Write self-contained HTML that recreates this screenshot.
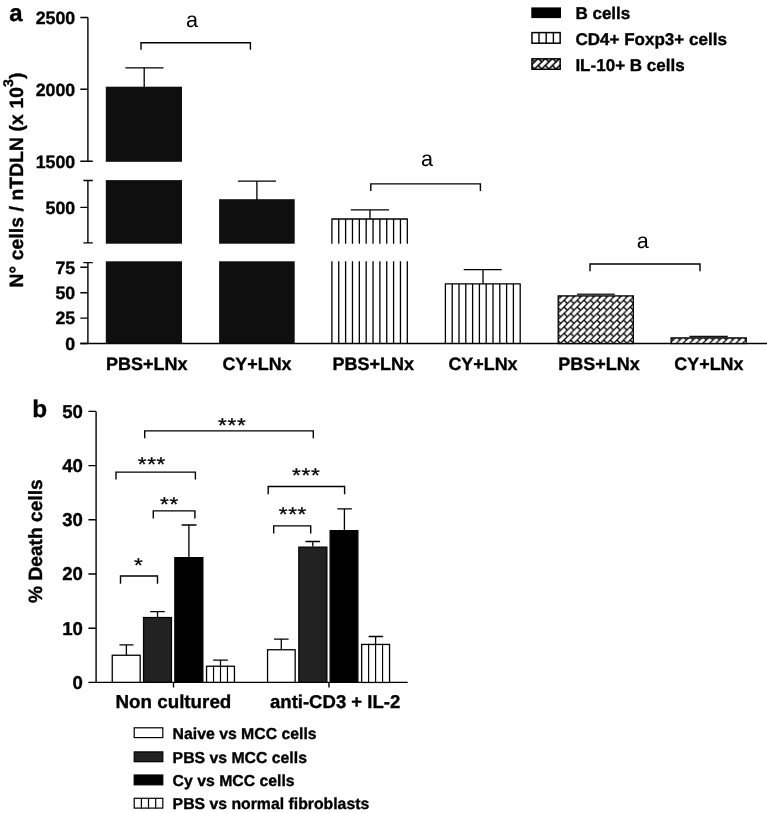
<!DOCTYPE html>
<html><head><meta charset="utf-8"><title>Figure</title>
<style>
html,body{margin:0;padding:0;background:#fff;}
body{width:767px;height:813px;overflow:hidden;font-family:"Liberation Sans",sans-serif;}
svg{display:block;will-change:transform;}
text{font-family:"Liberation Sans",sans-serif;fill:#000;text-rendering:geometricPrecision;}
.b{stroke:#000;stroke-width:0.35;}
.b{font-weight:bold;}
.ln{stroke:#000;stroke-width:1.4;fill:none;}
</style></head><body>
<svg width="767" height="813" viewBox="0 0 767 813">
<defs>
<pattern id="brick" width="6.62" height="6.62" patternUnits="userSpaceOnUse" x="557.4" y="293.7">
<rect width="6.62" height="6.62" fill="#fff"/>
<path d="M-1 7.62L7.62 -1M-1 1L1 -1M5.62 7.62L7.62 5.62" stroke="#000" stroke-width="1.3" fill="none"/>
<path d="M0 0L3.31 3.31" stroke="#000" stroke-width="1.4" fill="none"/>
</pattern>
<pattern id="brick2" width="7.15" height="7.15" patternUnits="userSpaceOnUse" x="531.04" y="58.3">
<rect width="7.15" height="7.15" fill="#fff"/>
<path d="M-1 8.15L8.15 -1M-1 1L1 -1M6.15 8.15L8.15 6.15" stroke="#000" stroke-width="1.6" fill="none"/>
<path d="M0 0L3.575 3.575" stroke="#000" stroke-width="1.5" fill="none"/>
</pattern>
<pattern id="brick3" width="6.62" height="6.62" patternUnits="userSpaceOnUse" x="670.04" y="336.5">
<rect width="6.62" height="6.62" fill="#fff"/>
<path d="M-1 7.62L7.62 -1M-1 1L1 -1M5.62 7.62L7.62 5.62" stroke="#000" stroke-width="1.3" fill="none"/>
<path d="M0 0L3.31 3.31" stroke="#000" stroke-width="1.4" fill="none"/>
</pattern>
</defs>
<rect width="767" height="813" fill="#fff"/>

<text class="b" x="9.3" y="21.3" font-size="24">a</text>
<text class="b" font-size="19.3" letter-spacing="0.1" transform="translate(22.6 287.6) rotate(-90)">N° cells / nTDLN (x 10<tspan font-size="14" dy="-10">3</tspan><tspan dy="10">)</tspan></text>
<path class="ln" d="M87.9 17.5V161.3M87.9 180.5V242.9M87.9 262.6V343.5"/>
<path class="ln" d="M80.3 17.5H87.9M80.3 89.2H87.9M80.3 161.3H87.9M80.3 207.4H87.9M80.3 267.3H87.9M80.3 292.7H87.9M80.3 318.1H87.9M80.3 343.5H87.9M87.9 161.3H92.8M83.4 180.5H92.8M83.4 242.9H92.8M83.4 262.6H92.8"/>
<text class="b" font-size="17.8" text-anchor="end" x="75.2" y="23.8">2500</text>
<text class="b" font-size="17.8" text-anchor="end" x="75.2" y="95.5">2000</text>
<text class="b" font-size="17.8" text-anchor="end" x="75.2" y="167.6">1500</text>
<text class="b" font-size="17.8" text-anchor="end" x="75.2" y="213.7">500</text>
<text class="b" font-size="17.8" text-anchor="end" x="75.2" y="273.6">75</text>
<text class="b" font-size="17.8" text-anchor="end" x="75.2" y="299.0">50</text>
<text class="b" font-size="17.8" text-anchor="end" x="75.2" y="324.4">25</text>
<text class="b" font-size="17.8" text-anchor="end" x="75.2" y="349.8">0</text>
<path class="ln" d="M80.3 343.5H767"/>
<rect x="105.8" y="86.7" width="76.2" height="75.1" fill="#0f0f0f"/>
<rect x="105.8" y="180.1" width="76.2" height="63.6" fill="#0f0f0f"/>
<rect x="105.8" y="261.3" width="76.2" height="82.2" fill="#0f0f0f"/>
<rect x="219.1" y="199.2" width="75.6" height="44.5" fill="#0f0f0f"/>
<rect x="219.1" y="261.3" width="75.6" height="82.2" fill="#0f0f0f"/>
<path class="ln" style="stroke-width:1.3" d="M144.2 87V67.8M125.4 67.8H163.5"/>
<path class="ln" style="stroke-width:1.3" d="M256.9 200V181.1M237.9 181.1H276"/>
<path d="M331.90 219.0V243.7M338.75 219.0V243.7M345.61 219.0V243.7M352.46 219.0V243.7M359.32 219.0V243.7M366.17 219.0V243.7M373.03 219.0V243.7M379.88 219.0V243.7M386.74 219.0V243.7M393.59 219.0V243.7M400.45 219.0V243.7M407.30 219.0V243.7M331.90 261.3V343.5M338.75 261.3V343.5M345.61 261.3V343.5M352.46 261.3V343.5M359.32 261.3V343.5M366.17 261.3V343.5M373.03 261.3V343.5M379.88 261.3V343.5M386.74 261.3V343.5M393.59 261.3V343.5M400.45 261.3V343.5M407.30 261.3V343.5M331.4 219.0H407.8" stroke="#000" stroke-width="1.3" fill="none"/>
<path d="M445.40 283.9V343.5M452.20 283.9V343.5M459.00 283.9V343.5M465.80 283.9V343.5M472.60 283.9V343.5M479.40 283.9V343.5M486.20 283.9V343.5M493.00 283.9V343.5M499.80 283.9V343.5M506.60 283.9V343.5M513.40 283.9V343.5M520.20 283.9V343.5M444.9 283.9H520.7" stroke="#000" stroke-width="1.3" fill="none"/>
<path class="ln" style="stroke-width:1.3" d="M370 218.7V209.8M350.8 209.8H389.1"/>
<path class="ln" style="stroke-width:1.3" d="M483 283.7V269.7M463.7 269.7H501.7"/>
<rect x="558.2" y="295.9" width="75.1" height="47.6" fill="url(#brick)" stroke="#000" stroke-width="1.3"/>
<rect x="671.1" y="337.9" width="75.1" height="5.6" fill="url(#brick3)" stroke="#000" stroke-width="1.3"/>
<path d="M577 294.3H614.8" stroke="#333" stroke-width="1.6"/>
<path d="M689.4 336.5H727.8" stroke="#111" stroke-width="1.5"/>
<path class="ln" d="M141.0 49.7V42.7H250.4V49.7"/>
<path class="ln" d="M370.8 190.9V183.9H480.4V190.9"/>
<path class="ln" d="M590 271.2V264H700V271.2"/>
<text font-size="21.6" text-anchor="middle" x="192.1" y="26.9">a</text>
<text font-size="21.6" text-anchor="middle" x="426.9" y="166.2">a</text>
<text font-size="21.6" text-anchor="middle" x="642.7" y="248.3">a</text>
<text class="b" font-size="18" text-anchor="middle" x="146.70" y="369.7">PBS+LNx</text>
<text class="b" font-size="18" text-anchor="middle" x="373.20" y="369.7">PBS+LNx</text>
<text class="b" font-size="18" text-anchor="middle" x="599.00" y="369.7">PBS+LNx</text>
<text class="b" font-size="17.9" text-anchor="middle" x="257.00" y="369.7">CY+LNx</text>
<text class="b" font-size="17.9" text-anchor="middle" x="483.00" y="369.7">CY+LNx</text>
<text class="b" font-size="17.9" text-anchor="middle" x="708.90" y="369.7">CY+LNx</text>
<rect x="531.3" y="7.4" width="29.7" height="10.7" fill="#000"/>
<rect x="531.95" y="32.6" width="28.2" height="10.6" fill="#fff" stroke="#000" stroke-width="1.5"/>
<path d="M539 32.6V43.2M546.2 32.6V43.2M553.4 32.6V43.2" stroke="#000" stroke-width="1.4"/>
<rect x="531.95" y="58.85" width="28.2" height="10.4" fill="url(#brick2)" stroke="#000" stroke-width="1.5"/>
<text class="b" font-size="17.05" x="575.4" y="18.9">B cells</text>
<text class="b" font-size="17.05" x="575.4" y="45.1">CD4+ Foxp3+ cells</text>
<text class="b" font-size="17.05" x="575.4" y="70.9">IL-10+ B cells</text>
<text class="b" x="32.2" y="416.5" font-size="24.3">b</text>
<text class="b" font-size="19.2" transform="translate(42.4 603) rotate(-90)">% Death cells</text>
<path class="ln" d="M96.1 411.4V682.4"/>
<text class="b" font-size="18.6" text-anchor="end" x="82.9" y="688.8">0</text>
<text class="b" font-size="18.6" text-anchor="end" x="82.9" y="634.6">10</text>
<text class="b" font-size="18.6" text-anchor="end" x="82.9" y="580.4">20</text>
<text class="b" font-size="18.6" text-anchor="end" x="82.9" y="526.2">30</text>
<text class="b" font-size="18.6" text-anchor="end" x="82.9" y="472.0">40</text>
<text class="b" font-size="18.6" text-anchor="end" x="82.9" y="417.8">50</text>
<path class="ln" d="M88.4 682.4H96.1M88.4 628.2H96.1M88.4 574.0H96.1M88.4 519.8H96.1M88.4 465.6H96.1M88.4 411.4H96.1M88.4 682.4H407.7M173.5 682.4V687.5M329 682.4V687.5"/>
<rect x="112.25" y="655.25" width="27.9" height="27.1" fill="#fff" stroke="#000" stroke-width="1.3"/>
<path class="ln" style="stroke-width:1.3" d="M126.4 655.3V644.8M119.4 644.8H133.5"/>
<rect x="143.55" y="617.55" width="27.9" height="64.8" fill="#222" stroke="#000" stroke-width="1.3"/>
<path class="ln" style="stroke-width:1.3" d="M157.5 616.9V611.7M150.2 611.7H164.8"/>
<rect x="174.85" y="557.65" width="28.0" height="124.7" fill="#000" stroke="#000" stroke-width="1.3"/>
<path class="ln" style="stroke-width:1.3" d="M188.9 557V525M181.6 525H196.5"/>
<rect x="206.55" y="666.25" width="27.9" height="16.1" fill="#fff" stroke="#000" stroke-width="1.3"/>
<path d="M213.53 665.6V682.4M220.50 665.6V682.4M227.47 665.6V682.4" stroke="#000" stroke-width="1.15" fill="none"/>
<path class="ln" style="stroke-width:1.3" d="M220.5 666.5V660.2M213.2 660.2H227.8"/>
<rect x="267.54999999999995" y="649.75" width="27.6" height="32.6" fill="#fff" stroke="#000" stroke-width="1.3"/>
<path class="ln" style="stroke-width:1.3" d="M281.3 650V639.1M274 639.1H288.6"/>
<rect x="298.84999999999997" y="547.15" width="28.0" height="135.2" fill="#222" stroke="#000" stroke-width="1.3"/>
<path class="ln" style="stroke-width:1.3" d="M312.8 546.5V541.5M305.5 541.5H320.1"/>
<rect x="330.15" y="530.65" width="27.7" height="151.7" fill="#000" stroke="#000" stroke-width="1.3"/>
<path class="ln" style="stroke-width:1.3" d="M344.4 530V508.9M337.3 508.9H351.9"/>
<rect x="361.65" y="644.4499999999999" width="27.9" height="38.0" fill="#fff" stroke="#000" stroke-width="1.3"/>
<path d="M368.62 643.8V682.4M375.60 643.8V682.4M382.57 643.8V682.4" stroke="#000" stroke-width="1.15" fill="none"/>
<path class="ln" style="stroke-width:1.3" d="M375.6 644.6V636.5M368.6 636.5H383.2"/>
<path class="ln" d="M144.7 438.2V430.9H313.3V438.2"/>
<path class="ln" d="M116 479.40000000000003V472.1H195.4V479.40000000000003"/>
<path class="ln" d="M153.3 518.5V510.9H194.9V518.5"/>
<path class="ln" d="M120.5 583.8V576.0H157.5V583.8"/>
<path class="ln" d="M268.2 494.3V486.5H344.6V494.3"/>
<path class="ln" d="M273.7 533.4V525.9H310.7V533.4"/>
<text font-size="22.6" letter-spacing="0.6" text-anchor="middle" transform="translate(232.2 432.0) scale(1 0.88)" stroke="#000" stroke-width="0.3">***</text>
<text font-size="22.6" letter-spacing="0.6" text-anchor="middle" transform="translate(151.9 471.2) scale(1 0.88)" stroke="#000" stroke-width="0.3">***</text>
<text font-size="22.6" letter-spacing="0.6" text-anchor="middle" transform="translate(169.5 510.5) scale(1 0.88)" stroke="#000" stroke-width="0.3">**</text>
<text font-size="22.6" letter-spacing="0.6" text-anchor="middle" transform="translate(138.6 571.9) scale(1 0.88)" stroke="#000" stroke-width="0.3">*</text>
<text font-size="22.6" letter-spacing="0.6" text-anchor="middle" transform="translate(306.2 482.0) scale(1 0.88)" stroke="#000" stroke-width="0.3">***</text>
<text font-size="22.6" letter-spacing="0.6" text-anchor="middle" transform="translate(292.9 521.1) scale(1 0.88)" stroke="#000" stroke-width="0.3">***</text>
<text class="b" font-size="18.8" x="115.5" y="708.4">Non cultured</text>
<text class="b" font-size="18.55" x="270" y="708.4">anti-CD3 + IL-2</text>
<rect x="134.2" y="727.8" width="28.6" height="9.8" fill="#fff" stroke="#000" stroke-width="1.2"/>
<text class="b" font-size="15.8" x="172.6" y="738.6">Naive vs MCC cells</text>
<rect x="134.2" y="751.9" width="28.6" height="9.8" fill="#222" stroke="#000" stroke-width="1.2"/>
<text class="b" font-size="15.8" x="172.6" y="762.6">PBS vs MCC cells</text>
<rect x="134.2" y="775.0" width="28.6" height="9.8" fill="#000" stroke="#000" stroke-width="1.2"/>
<text class="b" font-size="15.8" x="172.6" y="786">Cy vs MCC cells</text>
<rect x="134.2" y="798.3" width="28.6" height="9.8" fill="#fff" stroke="#000" stroke-width="1.2"/>
<text class="b" font-size="15.8" x="172.6" y="809.4">PBS vs normal fibroblasts</text>
<path d="M141.4 798V808.4M148.5 798V808.4M155.7 798V808.4" stroke="#000" stroke-width="1.2"/>
</svg></body></html>
